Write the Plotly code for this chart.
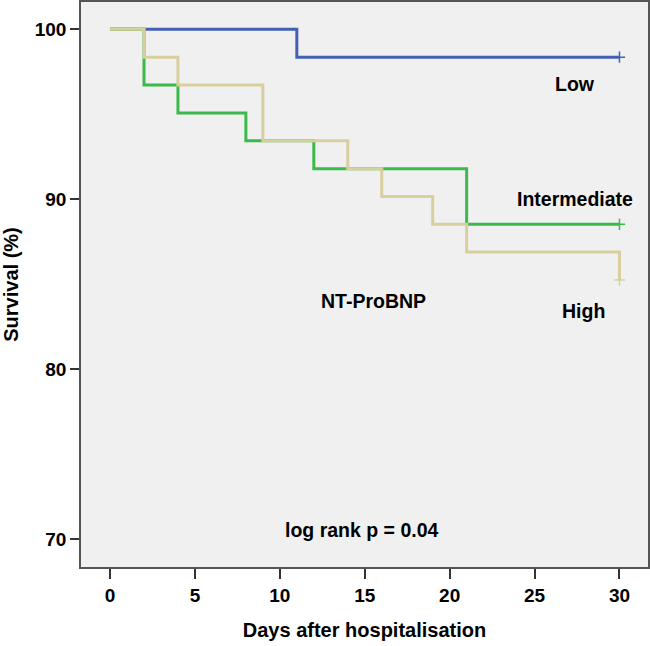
import plotly.graph_objects as go

# Kaplan-Meier step data (days, survival %)
low_days = [0, 11, 30]
low_surv = [100, 98.36, 98.36]

inter_days = [0, 2, 4, 8, 12, 21, 30]
inter_surv = [100, 96.72, 95.08, 93.44, 91.80, 88.52, 88.52]

high_days = [0, 2, 4, 9, 14, 16, 19, 21, 30]
high_surv = [100, 98.36, 96.72, 93.44, 91.80, 90.16, 88.52, 86.89, 85.25]

# censor marks
low_cens = ([30], [98.36])
inter_cens = ([30], [88.52])
high_cens = ([30], [85.25])

x_ticks = [0, 5, 10, 15, 20, 25, 30]
y_ticks = [70, 80, 90, 100]

BLUE = "#4361b3"
GREEN = "#3bb94b"
TAN = "#d8cf9f"
FONT = "Liberation Sans"

fig = go.Figure()
for days, surv, col, cens in [
    (low_days, low_surv, BLUE, low_cens),
    (inter_days, inter_surv, GREEN, inter_cens),
    (high_days, high_surv, TAN, high_cens),
]:
    fig.add_trace(go.Scatter(x=days, y=surv, mode="lines", line=dict(color=col, width=3, shape="hv"),
                             showlegend=False, hoverinfo="skip"))
    fig.add_trace(go.Scatter(x=cens[0], y=cens[1], mode="markers",
                             marker=dict(symbol="cross-thin", size=8, line=dict(color=col, width=1.5)),
                             showlegend=False, hoverinfo="skip"))

labels = [
    (27.4, 96.8, "Low"),
    (27.4, 90.0, "Intermediate"),
    (27.9, 83.4, "High"),
    (15.5, 84.0, "NT-ProBNP"),
    (14.85, 70.5, "log rank p = 0.04"),
]
for x, y, t in labels:
    fig.add_annotation(x=x, y=y, text=t, showarrow=False,
                       font=dict(family=FONT, size=19.5, color="black", weight="bold"))

tf = dict(family=FONT, size=19, color="black", weight="bold")
titf = dict(family=FONT, size=20, color="black", weight="bold")

fig.update_layout(
    width=650, height=646,
    margin=dict(l=81, r=2, t=2, b=79),
    paper_bgcolor="white", plot_bgcolor="#f0f0f0",
    font=dict(family=FONT, color="black"),
    xaxis=dict(range=[-1.71, 31.68], tickvals=x_ticks, ticks="outside", ticklen=10, tickwidth=1.5,
               tickcolor="#333", showgrid=False, zeroline=False, showline=True, linecolor="#555",
               linewidth=1.5, mirror=True, automargin=False,
               tickfont=tf,
               title=dict(text="Days after hospitalisation", font=titf, standoff=18)),
    yaxis=dict(range=[68.35, 101.61], tickvals=y_ticks, ticks="outside", ticklen=9, tickwidth=1.5,
               tickcolor="#333", showgrid=False, zeroline=False, showline=True, linecolor="#555",
               linewidth=1.5, mirror=True, automargin=False,
               tickfont=tf,
               title=dict(text="Survival (%)", font=titf, standoff=14)),
)

fig.write_html("out.html", config={"displayModeBar": False},
               post_script="document.body.style.margin='0';")
